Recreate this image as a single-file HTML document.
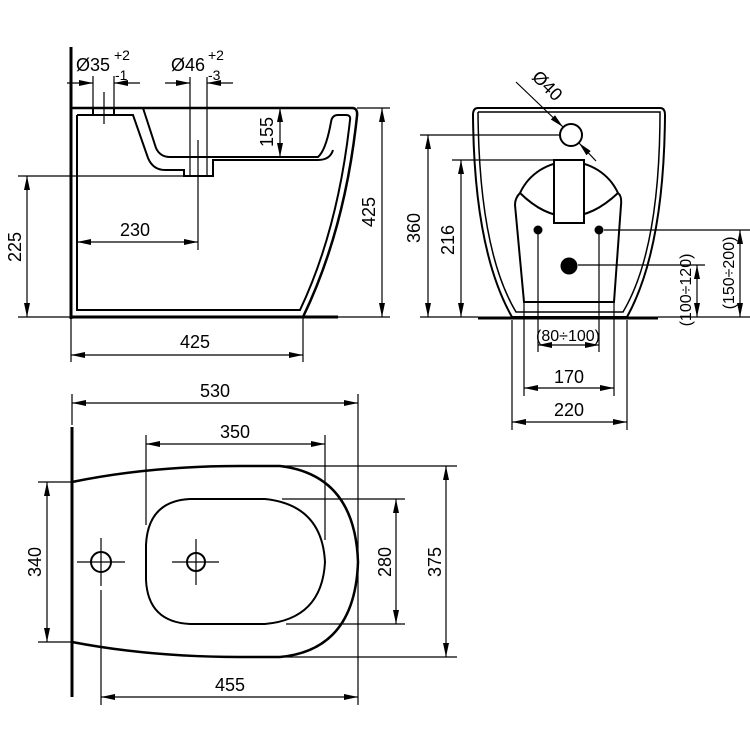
<!DOCTYPE html>
<html><head><meta charset="utf-8"><style>
html,body{margin:0;padding:0;background:#fff}
svg{display:block}
text{font-family:"Liberation Sans",Arial,sans-serif;font-size:18px;fill:#000}
</style></head><body>
<svg width="750" height="750" viewBox="0 0 750 750" xmlns="http://www.w3.org/2000/svg">
<defs>
<marker id="a" viewBox="0 0 14 6" refX="14" refY="3" markerWidth="14" markerHeight="6" markerUnits="userSpaceOnUse" orient="auto-start-reverse">
<path d="M0,0 L14,3 L0,6 Z" fill="#000"/></marker>
</defs>
<g fill="none" stroke="#000">
<line x1="71" y1="47" x2="71" y2="319" stroke-width="3"/>
<path d="M71,108 H352 Q358,108 357,116 Q345,230 303,317" stroke-width="2.5"/>
<line x1="71" y1="317" x2="338" y2="317" stroke-width="3"/>
<path d="M77,115 V310 H300 Q338,230 350,120 Q351,115 346,115 H338 Q332,115 331,122 Q326,150 318,157 H170 Q160,157 156,148 L143,108" stroke-width="2"/>
<path d="M77,115 H133 L148,158 Q153,170 165,170 H184 V176 H213 V160 H318 Q330,160 333,150" stroke-width="2"/>
<line x1="93" y1="108" x2="93" y2="115" stroke-width="2"/>
<line x1="114" y1="108" x2="114" y2="115" stroke-width="2"/>
<line x1="93" y1="76" x2="93" y2="108" stroke-width="1.2"/>
<line x1="114" y1="76" x2="114" y2="108" stroke-width="1.2"/>
<line x1="104" y1="92" x2="104" y2="124" stroke-width="1.2"/>
<line x1="190" y1="77" x2="190" y2="176" stroke-width="1.2"/>
<line x1="207" y1="77" x2="207" y2="176" stroke-width="1.2"/>
<line x1="198" y1="140" x2="198" y2="250" stroke-width="1.2"/>
<line x1="67" y1="83" x2="93" y2="83" stroke-width="1.2" marker-end="url(#a)"/>
<line x1="140" y1="83" x2="114" y2="83" stroke-width="1.2" marker-end="url(#a)"/>
<line x1="165" y1="83" x2="190" y2="83" stroke-width="1.2" marker-end="url(#a)"/>
<line x1="233" y1="83" x2="207" y2="83" stroke-width="1.2" marker-end="url(#a)"/>
<line x1="18" y1="176" x2="190" y2="176" stroke-width="1.2"/>
<line x1="18" y1="317" x2="71" y2="317" stroke-width="1.2"/>
<line x1="27" y1="176" x2="27" y2="317" stroke-width="1.2" marker-start="url(#a)" marker-end="url(#a)"/>
<line x1="77" y1="242" x2="198" y2="242" stroke-width="1.2" marker-start="url(#a)" marker-end="url(#a)"/>
<line x1="280" y1="108" x2="280" y2="157" stroke-width="1.2" marker-start="url(#a)" marker-end="url(#a)"/>
<line x1="357" y1="108" x2="390" y2="108" stroke-width="1.2"/>
<line x1="338" y1="317" x2="390" y2="317" stroke-width="1.2"/>
<line x1="382" y1="108" x2="382" y2="317" stroke-width="1.2" marker-start="url(#a)" marker-end="url(#a)"/>
<line x1="71" y1="319" x2="71" y2="362" stroke-width="1.2"/>
<line x1="303" y1="317" x2="303" y2="362" stroke-width="1.2"/>
<line x1="71" y1="355" x2="303" y2="355" stroke-width="1.2" marker-start="url(#a)" marker-end="url(#a)"/>

<path d="M478,108 H660 Q665,108 665,115 Q664,250 627,317 H512 Q474,250 473,115 Q473,108 478,108 Z" stroke-width="2"/>
<path d="M478,112 H660 Q660,250 623,312 H516 Q479,250 478,112" stroke-width="1.5"/>
<line x1="478" y1="318" x2="658" y2="318" stroke-width="3"/>
<path d="M524,302 H614 L621,205 Q622,196 618,193 A54,54 0 0 0 520,193 Q515,198 515,205 Z" stroke-width="2"/>
<path d="M520,193 Q568,240 618,193" stroke-width="2"/>
<rect x="554" y="160" width="30" height="63" fill="#fff" stroke-width="2"/>
<circle cx="538" cy="230" r="4.5" fill="#000" stroke="none"/>
<circle cx="599" cy="230" r="4.5" fill="#000" stroke="none"/>
<circle cx="569" cy="266" r="8.5" fill="#000" stroke="none"/>
<circle cx="571" cy="135" r="11" stroke-width="2"/>
<line x1="516" y1="82" x2="563" y2="127" stroke-width="1.2" marker-end="url(#a)"/>
<line x1="596" y1="161" x2="579" y2="143" stroke-width="1.2" marker-end="url(#a)"/>
<line x1="420" y1="135" x2="560" y2="135" stroke-width="1.2"/>
<line x1="452" y1="160" x2="556" y2="160" stroke-width="1.2"/>
<line x1="420" y1="317" x2="478" y2="317" stroke-width="1.2"/>
<line x1="428" y1="135" x2="428" y2="317" stroke-width="1.2" marker-start="url(#a)" marker-end="url(#a)"/>
<line x1="461" y1="160" x2="461" y2="317" stroke-width="1.2" marker-start="url(#a)" marker-end="url(#a)"/>
<line x1="538" y1="230" x2="538" y2="352" stroke-width="1.2"/>
<line x1="599" y1="230" x2="599" y2="352" stroke-width="1.2"/>
<line x1="538" y1="345" x2="599" y2="345" stroke-width="1.2" marker-start="url(#a)" marker-end="url(#a)"/>
<line x1="524" y1="302" x2="524" y2="396" stroke-width="1.2"/>
<line x1="614" y1="302" x2="614" y2="396" stroke-width="1.2"/>
<line x1="524" y1="388" x2="614" y2="388" stroke-width="1.2" marker-start="url(#a)" marker-end="url(#a)"/>
<line x1="512" y1="320" x2="512" y2="430" stroke-width="1.2"/>
<line x1="627" y1="320" x2="627" y2="430" stroke-width="1.2"/>
<line x1="512" y1="422" x2="627" y2="422" stroke-width="1.2" marker-start="url(#a)" marker-end="url(#a)"/>
<line x1="578" y1="265" x2="705" y2="265" stroke-width="1.2"/>
<line x1="604" y1="230" x2="750" y2="230" stroke-width="1.2"/>
<line x1="658" y1="317" x2="750" y2="317" stroke-width="1.2"/>
<line x1="697" y1="265" x2="697" y2="317" stroke-width="1.2" marker-start="url(#a)" marker-end="url(#a)"/>
<line x1="740" y1="230" x2="740" y2="317" stroke-width="1.2" marker-start="url(#a)" marker-end="url(#a)"/>

<line x1="72" y1="427" x2="72" y2="697" stroke-width="3"/>
<path d="M72,482 Q150,466 240,466 H280 Q355,475 358,562 Q355,650 280,657 H240 Q150,657 72,642" stroke-width="2.5"/>
<path d="M190,499 H265 Q322,505 325,562 Q322,619 265,624 H190 Q148,622 146,580 V545 Q148,501 190,499 Z" stroke-width="2"/>
<circle cx="101" cy="562" r="10" stroke-width="2"/>
<circle cx="196" cy="562" r="9" stroke-width="2"/>
<line x1="77" y1="562" x2="125" y2="562" stroke-width="1.2"/>
<line x1="101" y1="538" x2="101" y2="586" stroke-width="1.2"/>
<line x1="101" y1="590" x2="101" y2="705" stroke-width="1.2"/>
<line x1="172" y1="562" x2="219" y2="562" stroke-width="1.2"/>
<line x1="196" y1="539" x2="196" y2="585" stroke-width="1.2"/>
<line x1="72" y1="394" x2="72" y2="425" stroke-width="1.2"/>
<line x1="358" y1="394" x2="358" y2="705" stroke-width="1.2"/>
<line x1="72" y1="403" x2="358" y2="403" stroke-width="1.2" marker-start="url(#a)" marker-end="url(#a)"/>
<line x1="146" y1="435" x2="146" y2="525" stroke-width="1.2"/>
<line x1="325" y1="435" x2="325" y2="540" stroke-width="1.2"/>
<line x1="146" y1="444" x2="325" y2="444" stroke-width="1.2" marker-start="url(#a)" marker-end="url(#a)"/>
<line x1="101" y1="697" x2="358" y2="697" stroke-width="1.2" marker-start="url(#a)" marker-end="url(#a)"/>
<line x1="38" y1="482" x2="72" y2="482" stroke-width="1.2"/>
<line x1="38" y1="642" x2="72" y2="642" stroke-width="1.2"/>
<line x1="47" y1="482" x2="47" y2="642" stroke-width="1.2" marker-start="url(#a)" marker-end="url(#a)"/>
<line x1="282" y1="499" x2="405" y2="499" stroke-width="1.2"/>
<line x1="286" y1="624" x2="405" y2="624" stroke-width="1.2"/>
<line x1="396" y1="499" x2="396" y2="624" stroke-width="1.2" marker-start="url(#a)" marker-end="url(#a)"/>
<line x1="280" y1="466" x2="457" y2="466" stroke-width="1.2"/>
<line x1="280" y1="657" x2="457" y2="657" stroke-width="1.2"/>
<line x1="446" y1="466" x2="446" y2="657" stroke-width="1.2" marker-start="url(#a)" marker-end="url(#a)"/>
</g>

<text x="76" y="71">Ø35</text>
<text x="114" y="60" style="font-size:14px">+2</text>
<text x="115" y="80" style="font-size:14px">-1</text>
<text x="171" y="71">Ø46</text>
<text x="208" y="60" style="font-size:14px">+2</text>
<text x="208" y="80" style="font-size:14px">-3</text>
<text x="135" y="236" text-anchor="middle">230</text>
<text x="195" y="348" text-anchor="middle">425</text>
<text transform="translate(21,247) rotate(-90)" text-anchor="middle">225</text>
<text transform="translate(273,132) rotate(-90)" text-anchor="middle">155</text>
<text transform="translate(375,212) rotate(-90)" text-anchor="middle">425</text>

<text transform="translate(531,78) rotate(45)">Ø40</text>
<text transform="translate(420,228) rotate(-90)" text-anchor="middle">360</text>
<text transform="translate(454,240) rotate(-90)" text-anchor="middle">216</text>
<text x="568" y="341" text-anchor="middle" style="font-size:16px">(80÷100)</text>
<text x="569" y="383" text-anchor="middle">170</text>
<text x="569" y="416" text-anchor="middle">220</text>
<text transform="translate(691,290) rotate(-90)" text-anchor="middle" style="font-size:16px">(100÷120)</text>
<text transform="translate(734,273) rotate(-90)" text-anchor="middle" style="font-size:16px">(150÷200)</text>

<text x="215" y="397" text-anchor="middle">530</text>
<text x="235" y="438" text-anchor="middle">350</text>
<text x="230" y="691" text-anchor="middle">455</text>
<text transform="translate(41,562) rotate(-90)" text-anchor="middle">340</text>
<text transform="translate(391,562) rotate(-90)" text-anchor="middle">280</text>
<text transform="translate(441,562) rotate(-90)" text-anchor="middle">375</text>
</svg>
</body></html>
